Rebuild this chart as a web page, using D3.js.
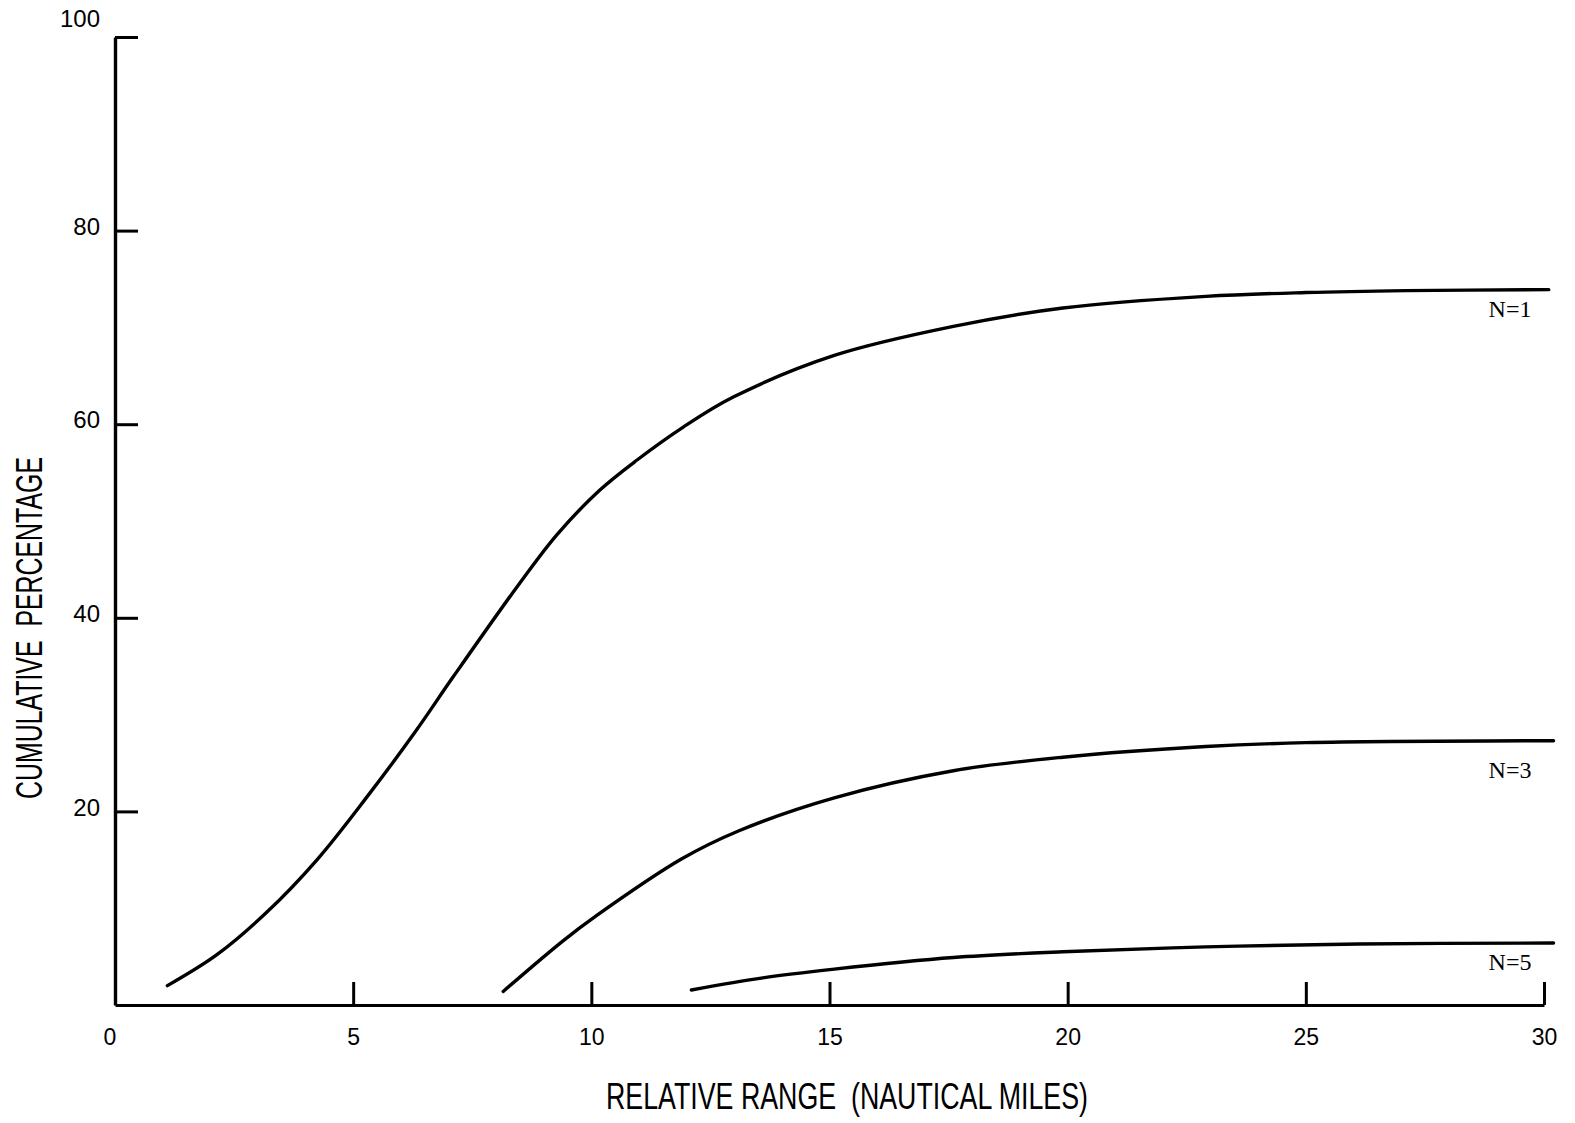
<!DOCTYPE html>
<html>
<head>
<meta charset="utf-8">
<script src="https://cdn.jsdelivr.net/npm/d3@7"></script>
<style>
  html, body { margin: 0; padding: 0; background: #fff; }
  svg { display: block; }
</style>
</head>
<body>
<svg id="chart" width="1575" height="1123"></svg>
<script>
// ---- data ----
const xTicks = [5, 10, 15, 20, 25, 30];
const xTickLabels = ["0", "5", "10", "15", "20", "25", "30"];
const yTicks = [20, 40, 60, 80, 100];
const seriesNames = ["N=1", "N=3", "N=5"];

const n1Range = [1.1, 2.14, 3.19, 4.24, 5.29, 6.3, 7.1, 8.5, 9.28, 10.18, 10.96, 11.93, 12.98, 15.1, 17.6, 19.9, 22.9, 25.0, 27.1, 30.1];
const n1Pct   = [2.0, 5.2, 9.6, 15.0, 21.5, 28.2, 33.9, 43.6, 48.6, 53.2, 56.3, 59.7, 62.8, 67.1, 70.1, 72.0, 73.2, 73.6, 73.8, 73.9];

const n3Range = [8.15, 9.4, 10.1, 11.9, 13.1, 15.1, 17.6, 19.9, 22.9, 25.0, 30.2];
const n3Pct   = [1.4, 6.6, 9.2, 15.1, 18.0, 21.4, 24.2, 25.6, 26.7, 27.1, 27.3];

const n5Range = [12.1, 13.6, 15.1, 17.6, 19.9, 22.9, 26.1, 30.2];
const n5Pct   = [1.55, 2.8, 3.7, 4.9, 5.5, 6.0, 6.3, 6.4];

const xTitle = "RELATIVE RANGE  (NAUTICAL MILES)";
const yTitle = "CUMULATIVE  PERCENTAGE";

// ---- drawing ----
const svg = d3.select("#chart");
const x = d3.scaleLinear().domain([0, 30]).range([115, 1544]);
const y = d3.scaleLinear().domain([0, 100]).range([1005, 37]);

const series = [
  {name: seriesNames[0], xs: n1Range, ys: n1Pct},
  {name: seriesNames[1], xs: n3Range, ys: n3Pct},
  {name: seriesNames[2], xs: n5Range, ys: n5Pct}
];

const line = d3.line()
  .x(d => x(d[0]))
  .y(d => y(d[1]))
  .curve(d3.curveCatmullRom.alpha(0.5));

svg.append("g").selectAll("path")
  .data(series)
  .join("path")
  .attr("d", s => line(s.xs.map((v, i) => [v, s.ys[i]])))
  .attr("fill", "none")
  .attr("stroke", "#000")
  .attr("stroke-width", 3.4)
  .attr("stroke-linecap", "round");

// x axis
const xAxis = d3.axisBottom(x)
  .tickValues(xTicks)
  .tickSize(-23)
  .tickSizeOuter(0)
  .tickPadding(24)
  .tickFormat(d => String(d));
const gx = svg.append("g").attr("transform", `translate(0,${y(0)})`).call(xAxis);
gx.select(".domain").attr("stroke-width", 3.2);
gx.selectAll(".tick line").attr("stroke-width", 3);
gx.selectAll(".tick text")
  .attr("font-family", "'Liberation Sans', Arial, sans-serif")
  .attr("font-size", 23)
  .attr("fill", "#000");
// zero label
gx.append("text")
  .attr("x", x(0) - 5)
  .attr("y", 24)
  .attr("dy", "0.71em")
  .attr("text-anchor", "middle")
  .attr("font-family", "'Liberation Sans', Arial, sans-serif")
  .attr("font-size", 23)
  .attr("fill", "#000")
  .text(xTickLabels[0]);

// y axis
const yAxis = d3.axisLeft(y)
  .tickValues(yTicks)
  .tickSize(-23)
  .tickSizeOuter(0)
  .tickPadding(15)
  .tickFormat(d => String(d));
const gy = svg.append("g").attr("transform", `translate(${x(0)},0)`).call(yAxis);
gy.select(".domain").attr("stroke-width", 3.4);
gy.selectAll(".tick line").attr("stroke-width", 3);
gy.selectAll(".tick text")
  .attr("font-family", "'Liberation Sans', Arial, sans-serif")
  .attr("font-size", 24)
  .attr("fill", "#000")
  .attr("dy", d => d === 100 ? "-0.45em" : "0.15em");

// series labels
const labelY = [309, 770, 962];
svg.append("g").selectAll("text")
  .data(series)
  .join("text")
  .attr("x", 1510)
  .attr("y", (s, i) => labelY[i])
  .attr("dy", "0.35em")
  .attr("text-anchor", "middle")
  .attr("font-family", "'Liberation Serif', 'Times New Roman', serif")
  .attr("font-size", 24)
  .attr("fill", "#000")
  .text(s => s.name);

// axis titles
svg.append("text")
  .attr("x", 606)
  .attr("y", 1109)
  .style("white-space", "pre")
  .attr("font-family", "'Liberation Sans', Arial, sans-serif")
  .attr("font-size", 37)
  .attr("textLength", 482)
  .attr("lengthAdjust", "spacingAndGlyphs")
  .attr("fill", "#000")
  .text(xTitle);

svg.append("text")
  .attr("transform", "translate(42,799) rotate(-90)")
  .style("white-space", "pre")
  .attr("font-family", "'Liberation Sans', Arial, sans-serif")
  .attr("font-size", 37)
  .attr("textLength", 342)
  .attr("lengthAdjust", "spacingAndGlyphs")
  .attr("fill", "#000")
  .text(yTitle);
</script>
</body>
</html>
